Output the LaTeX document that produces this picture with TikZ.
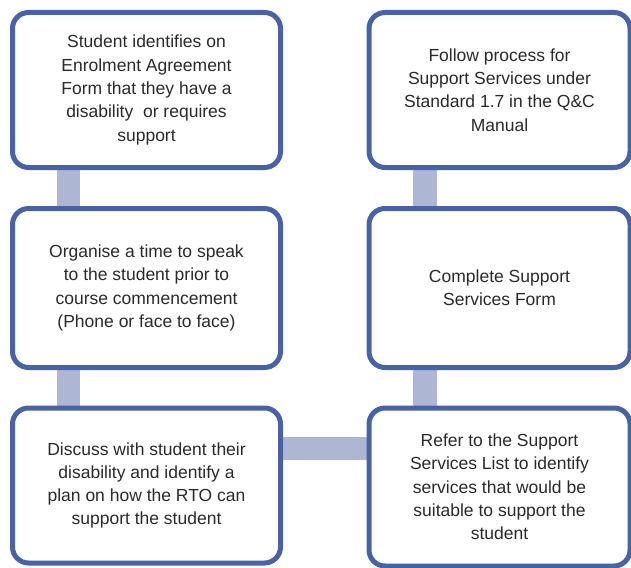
\documentclass[tikz,border=0pt]{standalone}
\usepackage{fontspec}
\setmainfont{Liberation Sans}
\usetikzlibrary{backgrounds}
\definecolor{boxblue}{HTML}{4862A6}
\definecolor{barblue}{HTML}{ADB6D3}
\definecolor{txtgray}{HTML}{2A2A2A}

\begin{document}
\begin{tikzpicture}[x=1pt,y=-1pt,
  stepbox/.style={draw=boxblue,line width=5pt,fill=white,rounded corners=16pt,
    inner sep=0pt,outer sep=0pt,align=center,text=txtgray,
    font=\fontsize{17.5}{23.3}\selectfont},
  bar/.style={draw=barblue,line width=23.5pt}]
\useasboundingbox (0,0) rectangle (631,567);
\clip (0,0) rectangle (631,567);
\node[stepbox,minimum width=268pt,minimum height=155pt] (s1) at (146.5,90)
  {Student identifies on\\Enrolment Agreement\\Form that they have a\\disability~ or requires\\support};
\node[stepbox,minimum width=268pt,minimum height=159pt] (s2) at (146.5,288)
  {Organise a time to speak\\to the student prior to\\course commencement\\(Phone or face to face)};
\node[stepbox,minimum width=268pt,minimum height=155pt] (s3) at (146.5,485.5)
  {Discuss with student their\\disability and identify a\\plan on how the RTO can\\support the student};
\node[stepbox,minimum width=261pt,minimum height=155pt] (s4) at (499.5,90)
  {Follow process for\\Support Services under\\Standard 1.7 in the Q\&C\\Manual};
\node[stepbox,minimum width=261pt,minimum height=159pt] (s5) at (499.5,288)
  {Complete Support\\Services Form};
\node[stepbox,minimum width=261pt,minimum height=158pt] (s6) at (499.5,487)
  {Refer to the Support\\Services List to identify\\services that would be\\suitable to support the\\student};
\begin{pgfonlayer}{background}
\draw[bar] ([xshift=56pt]s1.south west) -- ([xshift=56pt]s2.north west);
\draw[bar] ([xshift=56pt]s2.south west) -- ([xshift=56pt]s3.north west);
\draw[bar] ([yshift=37pt]s3.east) -- ([yshift=37pt]s3.east -| s6.west);
\draw[bar] ([xshift=56pt]s6.north west) -- ([xshift=56pt]s5.south west);
\draw[bar] ([xshift=56pt]s5.north west) -- ([xshift=56pt]s4.south west);
\end{pgfonlayer}
\end{tikzpicture}
\end{document}
